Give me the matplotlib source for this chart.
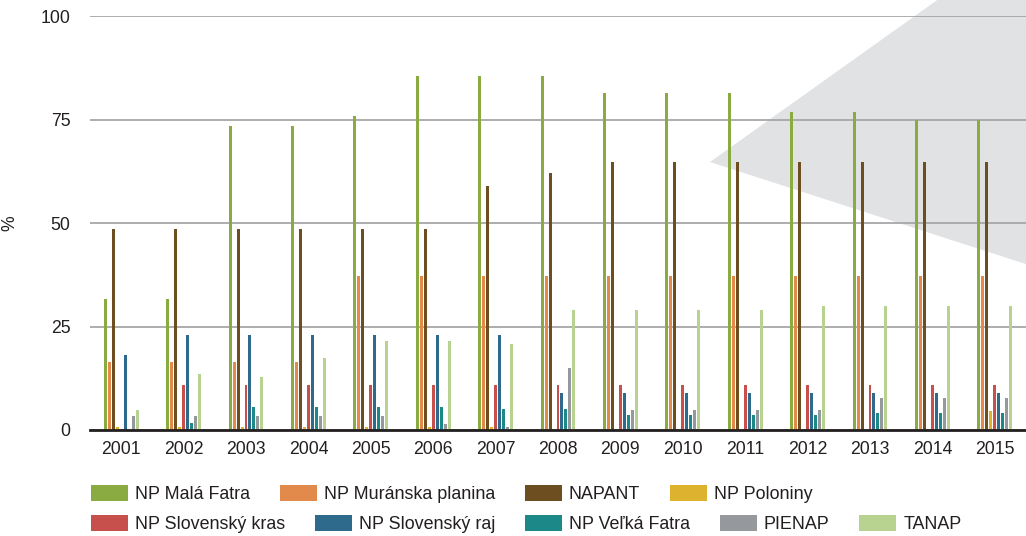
import numpy as np
import matplotlib
matplotlib.use("Agg")
import matplotlib.pyplot as plt
from matplotlib.patches import Polygon, Patch

plt.rcParams['font.family'] = ['Liberation Sans', 'DejaVu Sans']

# Datos
roky = ['2001', '2002', '2003', '2004', '2005', '2006', '2007', '2008',
        '2009', '2010', '2011', '2012', '2013', '2014', '2015']
mala_fatra = [31.6, 31.6, 73.5, 73.5, 75.8, 85.5, 85.5, 85.5, 81.5, 81.5, 81.5, 76.8, 76.8, 75.0, 75.0]
muranska = [16.4, 16.4, 16.4, 16.4, 37.2, 37.2, 37.2, 37.2, 37.2, 37.2, 37.2, 37.2, 37.2, 37.2, 37.2]
napant = [48.5, 48.5, 48.5, 48.5, 48.5, 48.5, 58.9, 62.1, 64.7, 64.7, 64.7, 64.7, 64.7, 64.7, 64.7]
poloniny = [0.7, 0.7, 0.7, 0.7, 0.7, 0.7, 0.7, 0, 0, 0, 0, 0, 0, 0, 4.6]
slov_kras = [0, 10.9, 10.9, 10.9, 10.9, 10.9, 10.9, 10.9, 10.9, 10.9, 10.9, 10.9, 10.9, 10.9, 10.9]
slov_raj = [18.1, 22.9, 22.9, 22.9, 22.9, 22.9, 22.9, 8.9, 8.9, 8.9, 8.9, 8.9, 8.9, 8.9, 8.9]
velka_fatra = [0, 1.7, 5.6, 5.6, 5.6, 5.6, 5.1, 5.1, 3.6, 3.6, 3.6, 3.6, 4.1, 4.1, 4.1]
pienap = [3.4, 3.4, 3.4, 3.4, 3.4, 1.4, 0.7, 15.0, 4.8, 4.8, 4.8, 4.8, 7.7, 7.7, 7.7]
tanap = [4.8, 13.5, 12.8, 17.4, 21.5, 21.5, 20.8, 29.0, 29.0, 29.0, 29.0, 30.0, 30.0, 30.0, 30.0]

nazvy = ['NP Malá Fatra', 'NP Muránska planina', 'NAPANT', 'NP Poloniny',
         'NP Slovenský kras', 'NP Slovenský raj', 'NP Veľká Fatra', 'PIENAP', 'TANAP']
serie = [mala_fatra, muranska, napant, poloniny, slov_kras, slov_raj, velka_fatra, pienap, tanap]
farby = ['#8aab41', '#e18a4b', '#6d4e20', '#ddb22e', '#c8504c',
         '#2d6a8c', '#1c8888', '#95989d', '#b8d290']

fig = plt.figure(figsize=(10.26, 5.36), dpi=100)

# Triangulo gris decorativo de fondo
W, H = 1026, 536
tri = [(710 / W, 1 - 162 / H), (1100 / W, 1 - (-116) / H), (1100 / W, 1 - 288 / H)]
fig.patches.append(Polygon(tri, closed=True, transform=fig.transFigure,
                           facecolor='#e1e2e4', edgecolor='none', zorder=0))

ax = fig.add_axes([90 / W, 1 - 430 / H, (1026 - 90) / W, (430 - 16) / H])
ax.patch.set_alpha(0)
ax.set_zorder(2)

x = np.arange(len(roky))
paso = 0.064
ancho = 0.048
for i, (vals, c) in enumerate(zip(serie, farby)):
    ax.bar(x + (i - 4) * paso, vals, width=ancho, color=c, zorder=3)

ax.set_xlim(-0.5, len(roky) - 0.5)
ax.set_ylim(0, 100)
ax.set_yticks([0, 25, 50, 75, 100])
ax.set_xticks(x)
ax.set_xticklabels(roky)
ax.yaxis.grid(True, color='#a7a7a9', linewidth=1.3, zorder=1)
ax.set_axisbelow(True)
for s in ['top', 'right', 'left']:
    ax.spines[s].set_visible(False)
ax.spines['bottom'].set_color('#231f20')
ax.spines['bottom'].set_linewidth(2)
ax.spines['bottom'].set_zorder(4)
ax.tick_params(axis='both', length=0, labelsize=12.7, colors='#231f20')
ax.tick_params(axis='y', pad=14)
ax.tick_params(axis='x', pad=8)
ax.set_ylabel('%', fontsize=12.7, color='#231f20', labelpad=16)

# Leyenda en dos filas
def fila(idx, ypix):
    handles = [Patch(facecolor=farby[k], edgecolor='none') for k in idx]
    labels = [nazvy[k] for k in idx]
    leg = fig.legend(handles, labels, loc='center left',
                     bbox_to_anchor=(91 / W, 1 - ypix / H), ncol=len(idx),
                     frameon=False, fontsize=12.85, handlelength=2.07,
                     handleheight=1.06, handletextpad=0.4, columnspacing=1.66,
                     borderpad=0, borderaxespad=0)
    for t in leg.get_texts():
        t.set_color('#231f20')
    return leg

fila([0, 1, 2, 3], 494)
fila([4, 5, 6, 7, 8], 524)

fig.savefig('out.png', dpi=100)
